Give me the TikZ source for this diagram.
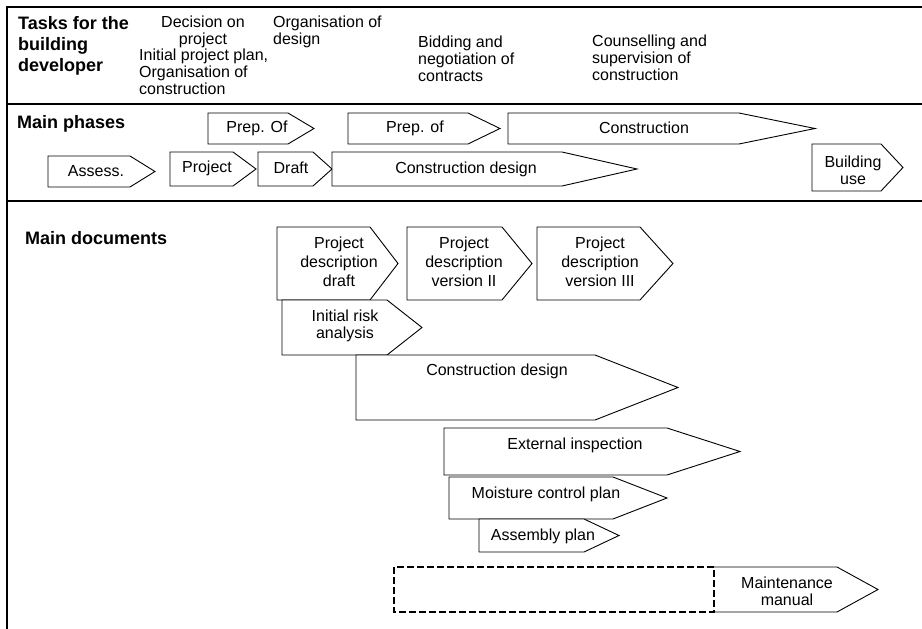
\documentclass[tikz,border=0pt]{standalone}
\usepackage{fontspec}
\setmainfont{Liberation Sans}
% arrow shaped box: left, top, bottom, shoulder, tip
\newcommand\arrowshape[6][]{%
  \draw[shapeline, #1] (#2,#3) -- (#5,#3) -- (#6,{(#3+#4)/2}) -- (#5,#4) -- (#2,#4) -- cycle;}
\begin{document}
\begin{tikzpicture}[x=1pt, y=-1pt,
    frame/.style={line width=1.3pt},
    shapeline/.style={line width=0.9pt, line join=miter, fill=white},
    txt/.style={inner sep=0pt, align=center, font=\fontsize{16}{17}\selectfont},
    doctxt/.style={txt, font=\fontsize{16}{19}\selectfont},
    task/.style={inner sep=0pt, anchor=north west, align=left, font=\fontsize{16}{16.8}\selectfont},
    head/.style={inner sep=0pt, anchor=north west, align=left, font=\bfseries\fontsize{18}{21}\selectfont}]
  \useasboundingbox (0,0) rectangle (922,629);
  % frame
  \draw[frame] (922,7) -- (7,7) -- (7,629);
  \draw[frame] (7,104) -- (922,104);
  \draw[frame] (7,201) -- (922,201);

  % tasks
  \node[head] (tasks) at (18,16.5) {Tasks for the\\building\\developer};
  \node[task, anchor=north, align=center] (decision) at (203,16) {Decision on\\project};
  \node[task] (orgdesign) at (273,16) {Organisation of\\design};
  \node[task] (initial) at (139,49) {Initial project plan,\\Organisation of\\construction};
  \node[task] (bidding) at (418,36) {Bidding and\\negotiation of\\contracts};
  \node[task] (counsel) at (592,35) {Counselling and\\supervision of\\construction};

  % main phases
  \node[head] (phases) at (17,115.5) {Main phases};
  \arrowshape{208}{113}{144}{288}{314}
  \node[txt] (prepdesign) at (257,128) {Prep. Of};
  \arrowshape{348}{113}{144}{468}{500}
  \node[txt] (prepcontract) at (415,128) {Prep. of};
  \arrowshape{508}{113}{144}{739}{815}
  \node[txt] (construction) at (644,128) {Construction};
  \arrowshape{48}{156}{187}{130}{155}
  \node[txt] (assess) at (96,171) {Assess.};
  \arrowshape{170}{152}{186}{233}{256}
  \node[txt] (project) at (207,168) {Project};
  \arrowshape{258}{152}{186}{313}{332}
  \node[txt] (draft) at (291,168) {Draft};
  \arrowshape{332}{152}{186}{562}{637}
  \node[txt] (phasedesign) at (466,169) {Construction design};
  \arrowshape{812}{144}{191}{881}{903}
  \node[txt] (use) at (853,170) {Building\\use};

  % main documents
  \node[head] (documents) at (25,231.5) {Main documents};
  \arrowshape{277}{227}{300}{370}{398}
  \node[doctxt] (descdraft) at (339,262) {Project\\description\\draft};
  \arrowshape{407}{227}{300}{502}{532}
  \node[doctxt] (desctwo) at (464,262) {Project\\description\\version II};
  \arrowshape{537}{227}{300}{640}{673}
  \node[doctxt] (descthree) at (600,262) {Project\\description\\version III};
  \arrowshape{282}{300}{355}{387}{422}
  \node[txt] (risk) at (345,326) {Initial risk\\analysis};
  \arrowshape{356}{355}{420}{595}{678}
  \node[txt] (docdesign) at (497,371) {Construction design};
  \arrowshape{444}{428}{475}{667}{740}
  \node[txt] (inspection) at (575,445) {External inspection};
  \arrowshape{449}{477}{519}{613}{667}
  \node[txt] (moisture) at (546,494) {Moisture control plan};
  \arrowshape{479}{519}{552}{584}{619}
  \node[txt] (assembly) at (543,536) {Assembly plan};
  \draw[line width=1.6pt, dash pattern=on 7pt off 3pt] (394,567) rectangle (714,612);
  \draw[shapeline, fill=none] (714,567) -- (837,567) -- (878,589.5) -- (837,612) -- (714,612);
  \node[txt] (manual) at (787,591) {Maintenance\\manual};
\end{tikzpicture}
\end{document}
